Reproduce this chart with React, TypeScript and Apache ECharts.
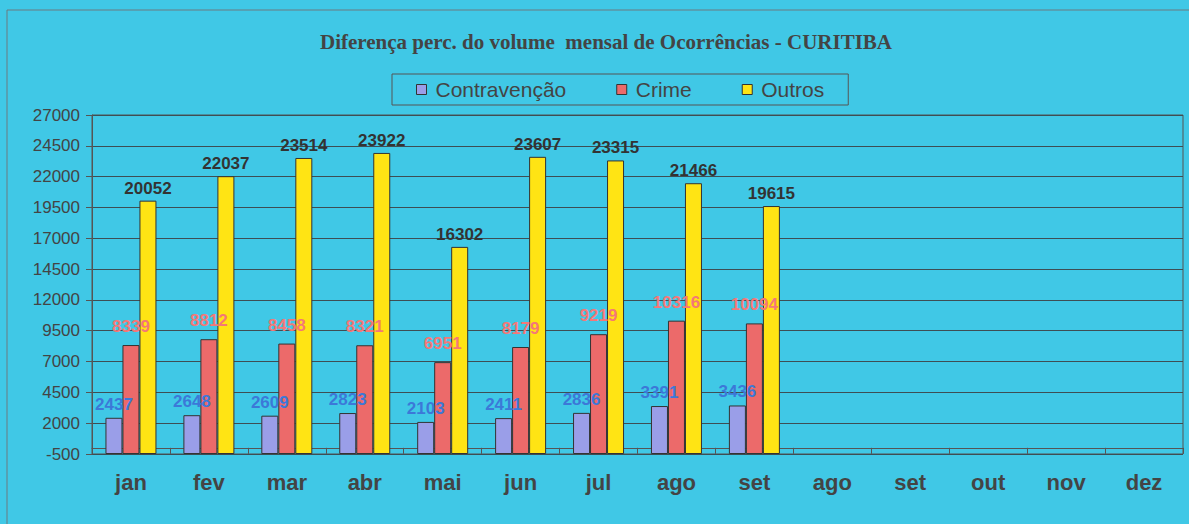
import React, { useEffect, useRef } from "react";
import * as echarts from "echarts";

const months = ["jan", "fev", "mar", "abr", "mai", "jun", "jul", "ago", "set", "ago", "set", "out", "nov", "dez"];
const contravencao = [2437, 2648, 2609, 2823, 2103, 2411, 2836, 3391, 3436];
const crime = [8339, 8812, 8458, 8321, 6951, 8179, 9219, 10316, 10094];
const outros = [20052, 22037, 23514, 23922, 16302, 23607, 23315, 21466, 19615];
const yTicks = [-500, 2000, 4500, 7000, 9500, 12000, 14500, 17000, 19500, 22000, 24500, 27000];

const titleText = "Diferença perc. do volume  mensal de Ocorrências - CURITIBA";

export default function App() {
  const ref = useRef<HTMLDivElement>(null);
  useEffect(() => {
    document.body.style.margin = "0";
    const chart = echarts.init(ref.current!, null, { renderer: "svg" });
    const labelBase = {
      show: true,
      position: "top",
      fontFamily: "Arial, 'Liberation Sans', sans-serif",
      fontWeight: "bold",
      fontSize: 17,
    };
    const bar = (name: string, data: number[], color: string, lblColor: string, dist: number) => ({
      name,
      type: "bar",
      data,
      barWidth: 17,
      barGap: "0%",
      itemStyle: { color, borderColor: "#333", borderWidth: 1 },
      label: { ...labelBase, color: lblColor, distance: dist },
    });
    chart.setOption({
      animation: false,
      backgroundColor: "#40c8e6",
      title: {
        text: titleText,
        left: 315,
        top: 26,
        textStyle: {
          fontFamily: "'Liberation Serif', 'Times New Roman', serif",
          fontWeight: "bold",
          fontSize: 21,
          color: "#444",
        },
      },
      legend: {
        top: 74,
        left: 392,
        padding: [5, 24],
        itemGap: 50,
        itemWidth: 10,
        itemHeight: 10,
        borderColor: "#555",
        borderWidth: 1,
        icon: "rect",
        itemStyle: { borderColor: "#333", borderWidth: 1 },
        textStyle: {
          fontFamily: "Arial, 'Liberation Sans', sans-serif",
          fontSize: 21,
          color: "#444",
          padding: [0, 0, 0, 4],
        },
      },
      grid: {
        left: 92,
        right: 6,
        top: 115,
        bottom: 70,
        show: true,
        borderColor: "#555",
        borderWidth: 1,
      },
      xAxis: {
        type: "category",
        data: months,
        axisLine: { lineStyle: { color: "#555", width: 1 } },
        axisTick: { show: true, length: 6, lineStyle: { color: "#555" } },
        axisLabel: {
          margin: 17,
          fontFamily: "Arial, 'Liberation Sans', sans-serif",
          fontWeight: "bold",
          fontSize: 22,
          color: "#444",
          interval: 0,
        },
      },
      yAxis: {
        type: "value",
        min: -500,
        max: 27000,
        startValue: -500,
        axisLine: { show: true, lineStyle: { color: "#555", width: 1 } },
        axisTick: { show: true, length: 6, lineStyle: { color: "#555" }, customValues: yTicks },
        axisLabel: {
          margin: 12,
          fontFamily: "Arial, 'Liberation Sans', sans-serif",
          fontSize: 17,
          color: "#444",
          customValues: yTicks,
          formatter: (v: number) => String(v),
        },
        splitLine: { show: true, lineStyle: { color: "#3e4e54", width: 1 } },
      },
      graphic: [
        {
          type: "rect",
          shape: { x: 7, y: 10, width: 1200, height: 530 },
          style: { fill: "none", stroke: "#6a7a80", lineWidth: 1 },
          silent: true,
        },
      ],
      series: [
        bar("Contravenção", contravencao, "#9a9ee8", "#3c78d8", 5),
        bar("Crime", crime, "#ec6a6a", "#f47878", 10),
        bar("Outros", outros, "#ffe414", "#333", 4),
      ],
    });
    return () => chart.dispose();
  }, []);
  return <div ref={ref} style={{ position: "absolute", left: 0, top: 0, width: 1189, height: 524 }} />;
}
